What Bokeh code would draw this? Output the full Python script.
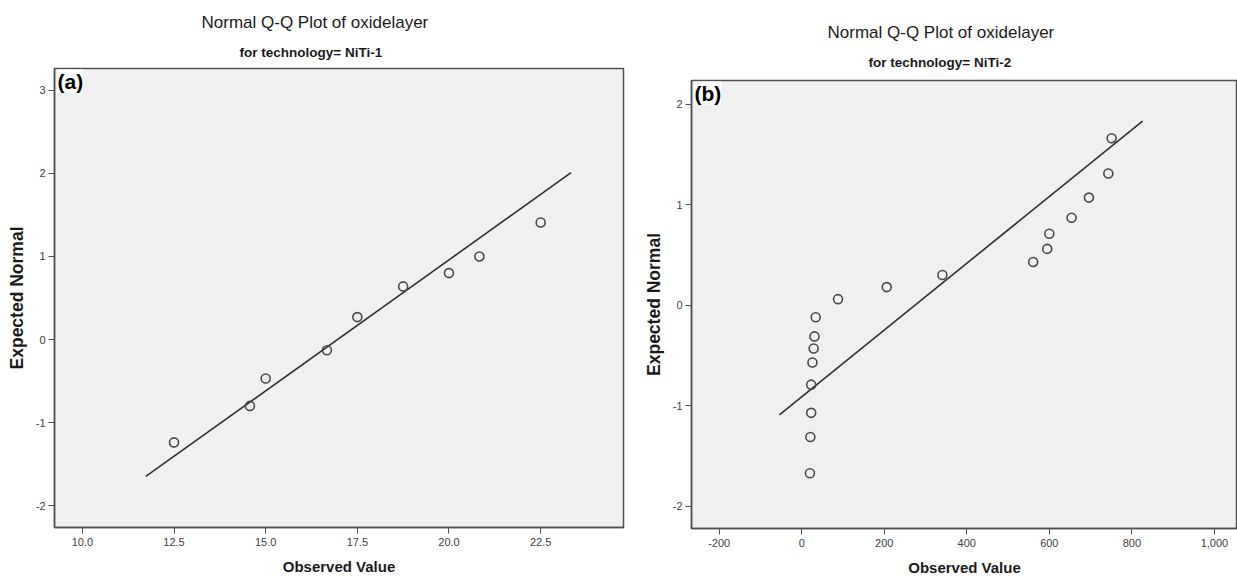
from jinja2 import Template
from bokeh.plotting import figure
from bokeh.models import Range1d, FixedTicker, NumeralTickFormatter, Label, Title
from bokeh.embed import file_html
from bokeh.resources import INLINE

# ---------------- data ----------------
title_text = "Normal Q-Q Plot of oxidelayer"
a_subtitle = "for technology= NiTi-1"
b_subtitle = "for technology= NiTi-2"
x_label = "Observed Value"
y_label = "Expected Normal"

a_observed = [12.5, 14.57, 15.0, 16.67, 17.5, 18.75, 20.0, 20.83, 22.5]
a_expected = [-1.24, -0.80, -0.47, -0.13, 0.27, 0.64, 0.80, 1.00, 1.41]
a_line_x = [11.73, 23.33]
a_line_y = [-1.65, 2.01]
a_xticks = [10.0, 12.5, 15.0, 17.5, 20.0, 22.5]
a_yticks = [-2, -1, 0, 1, 2, 3]

b_observed = [20, 21, 23, 23, 26, 29, 31, 34, 88, 206, 341, 561, 595, 600, 654, 696, 743, 751]
b_expected = [-1.67, -1.31, -1.07, -0.79, -0.57, -0.43, -0.31, -0.12, 0.06, 0.18, 0.30,
              0.43, 0.56, 0.71, 0.87, 1.07, 1.31, 1.66]
b_line_x = [-54, 826]
b_line_y = [-1.09, 1.83]
b_xticks = [-200, 0, 200, 400, 600, 800, 1000]
b_yticks = [-2, -1, 0, 1, 2]

SANS = "Liberation Sans"


def panel(obs, exp, lx, ly, xticks, yticks, xr, yr, xfmt, sub, tag,
          width, bl, br, bt, bb, title_off, sub_off, sub_standoff, title_standoff):
    p = figure(width=width, height=579, x_range=Range1d(*xr), y_range=Range1d(*yr),
               output_backend="svg", toolbar_location=None,
               min_border_left=bl, min_border_right=br,
               min_border_top=bt, min_border_bottom=bb)
    p.background_fill_color = "#f0f0f0"
    p.border_fill_color = "white"
    p.outline_line_color = "#505050"
    p.outline_line_width = 1.5
    p.xgrid.visible = False
    p.ygrid.visible = False

    p.line(lx, ly, line_color="#303030", line_width=1.6)
    p.scatter(obs, exp, marker="circle", size=9, fill_color=None,
              line_color="#4a4a4a", line_width=1.6)

    for ax in (p.xaxis[0], p.yaxis[0]):
        ax.axis_line_color = "#505050"
        ax.axis_line_width = 1.5
        ax.major_tick_line_color = "#505050"
        ax.major_tick_out = 6
        ax.major_tick_in = 0
        ax.minor_tick_line_color = None
        ax.major_label_text_font = SANS
        ax.major_label_text_font_size = "11px"
        ax.major_label_text_color = "#404040"
        ax.axis_label_text_font = SANS
        ax.axis_label_text_font_style = "bold"
        ax.axis_label_text_color = "#1a1a1a"
    p.xaxis[0].axis_label_text_font_size = "15px"
    p.yaxis[0].axis_label_text_font_size = "17.5px"
    p.xaxis[0].ticker = FixedTicker(ticks=xticks)
    p.yaxis[0].ticker = FixedTicker(ticks=yticks)
    p.xaxis[0].formatter = NumeralTickFormatter(format=xfmt)
    p.yaxis[0].formatter = NumeralTickFormatter(format="0")
    p.xaxis[0].axis_label = x_label
    p.yaxis[0].axis_label = y_label
    p.xaxis[0].major_label_standoff = 4
    p.yaxis[0].major_label_standoff = 3
    p.xaxis[0].axis_label_standoff = 9
    p.yaxis[0].axis_label_standoff = 6

    # subtitle first (nearest the frame), then the main title above it
    p.add_layout(Title(text=sub, align="left", offset=sub_off, standoff=sub_standoff,
                       text_font=SANS, text_font_style="bold", text_font_size="13.5px",
                       text_color="#1a1a1a"), "above")
    p.add_layout(Title(text=title_text, align="left", offset=title_off, standoff=title_standoff,
                       text_font=SANS, text_font_style="normal", text_font_size="17px",
                       text_color="#1a1a1a"), "above")

    p.add_layout(Label(x=bl + 3, y=bt + 1, x_units="canvas", y_units="canvas",
                       text=tag, text_align="left", text_baseline="top",
                       text_font=SANS, text_font_style="bold",
                       text_font_size="21px", text_color="black",
                       background_fill_color="white"))
    return p


pa = panel(a_observed, a_expected, a_line_x, a_line_y, a_xticks, a_yticks,
           (9.24, 24.76), (-2.265, 3.265), "0.0", a_subtitle, "(a)",
           640, 54, 17, 68, 52, 147, 185, 18, 4)
pb = panel(b_observed, b_expected, b_line_x, b_line_y, b_xticks, b_yticks,
           (-267, 1056), (-2.22, 2.234), "0,0", b_subtitle, "(b)",
           597, 51, 0, 80, 51, 136, 177, 22, 0)

PAGE = Template("""<!DOCTYPE html>
<html lang="en">
<head>
<meta charset="utf-8">
<title>{{ title }}</title>
<style>html, body { margin: 0; padding: 0; }
.panels { display: flex; flex-direction: row; align-items: flex-start; }</style>
{{ bokeh_css }}
{{ bokeh_js }}
</head>
<body>
<div class="panels">
{{ plot_div }}
</div>
{{ plot_script }}
</body>
</html>
""")

open("out.html", "w").write(file_html([pa, pb], INLINE, title="Normal Q-Q Plots", template=PAGE))
